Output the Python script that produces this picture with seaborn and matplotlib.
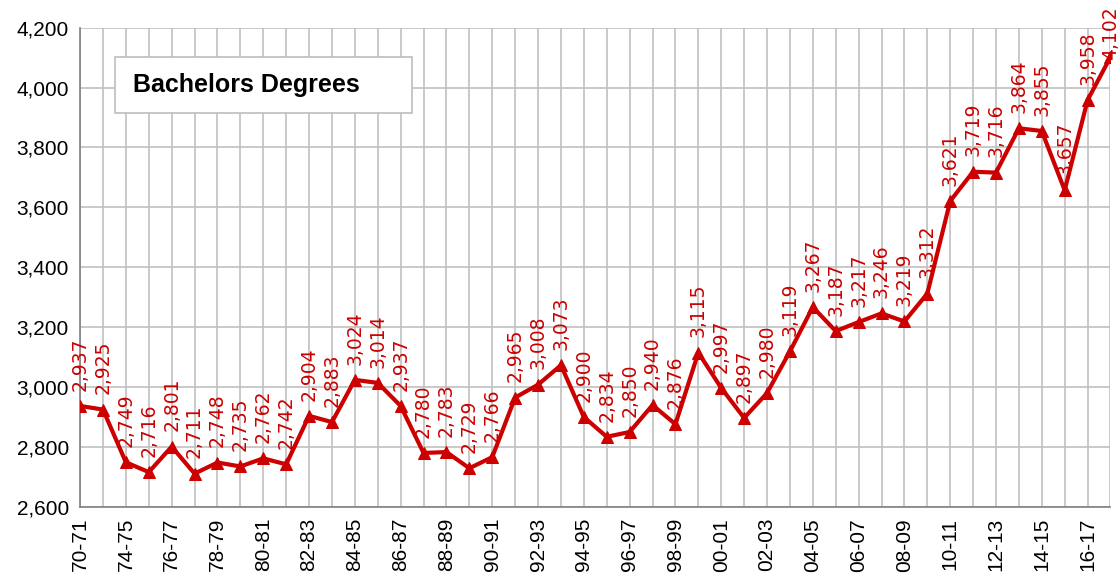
import numpy as np
import pandas as pd
import matplotlib.pyplot as plt
import seaborn as sns
from matplotlib.patches import Rectangle

# academic years (one before 74-75 is unlabeled on the axis)
years = ["70-71", "72-73"] + [f"{y % 100:02d}-{(y + 1) % 100:02d}" for y in range(74, 118)]

# bachelors degrees, thousands
degrees = [2937, 2925, 2749, 2716, 2801, 2711, 2748, 2735, 2762, 2742,
           2904, 2883, 3024, 3014, 2937, 2780, 2783, 2729, 2766, 2965,
           3008, 3073, 2900, 2834, 2850, 2940, 2876, 3115, 2997, 2897,
           2980, 3119, 3267, 3187, 3217, 3246, 3219, 3312, 3621, 3719,
           3716, 3864, 3855, 3657, 3958, 4102]

y_ticks = list(range(2600, 4201, 200))
title = "Bachelors Degrees"

red = "#CC0000"

df = pd.DataFrame({"pos": np.arange(len(degrees)), "year": years, "value": degrees})

sns.set_style("white")
plt.rcParams["font.family"] = ["Liberation Sans", "DejaVu Sans"]
plt.rcParams["text.color"] = "black"
plt.rcParams["xtick.color"] = "black"
plt.rcParams["ytick.color"] = "black"

fig = plt.figure(figsize=(11.2, 5.76), dpi=100)
ax = fig.add_axes([0.0715, 0.12, 0.92, 0.832])

sns.lineplot(data=df, x="pos", y="value", ax=ax, color=red, linewidth=3.0,
             marker="^", markersize=8, markeredgecolor=red, zorder=3)

for p, v in zip(df["pos"], df["value"]):
    # labels near the top are pushed down so they stay inside the figure
    off = 11 if v < 4050 else -2
    ax.annotate(f"{v:,}", (p, v), xytext=(0, off), textcoords="offset points",
                rotation=90, ha="center", va="bottom", color=red,
                fontsize=13.5, family="DejaVu Sans", zorder=4,
                annotation_clip=False)

ax.set_xlim(0, len(degrees) - 1)
ax.set_ylim(2600, 4200)
ax.set_yticks(y_ticks)
ax.set_yticklabels([f"{t:,}" for t in y_ticks], fontsize=15)

ax.set_xticks(df["pos"])
ax.set_xticklabels([y if (i % 2 == 0) else "" for i, y in enumerate(years)],
                   rotation=90, fontsize=15)
ax.tick_params(axis="both", length=5, color="#808080", labelcolor="black",
               width=1, direction="out", pad=3)

ax.grid(True, color="#c0c0c0", linewidth=1.2, zorder=0)
ax.set_axisbelow(True)
for s in ["top", "right"]:
    ax.spines[s].set_visible(False)
for s in ["left", "bottom"]:
    ax.spines[s].set_color("#808080")
    ax.spines[s].set_linewidth(1.2)
ax.set_xlabel("")
ax.set_ylabel("")

# title box
ax.add_patch(Rectangle((0.034, 0.822), 0.288, 0.117, transform=ax.transAxes,
                       fc="white", ec="#bdbdbd", lw=1.2, zorder=5))
ax.text(0.0515, 0.88, title, transform=ax.transAxes, fontsize=18, fontweight="bold",
        ha="left", va="center", zorder=6)

fig.savefig("out.png", dpi=100)
